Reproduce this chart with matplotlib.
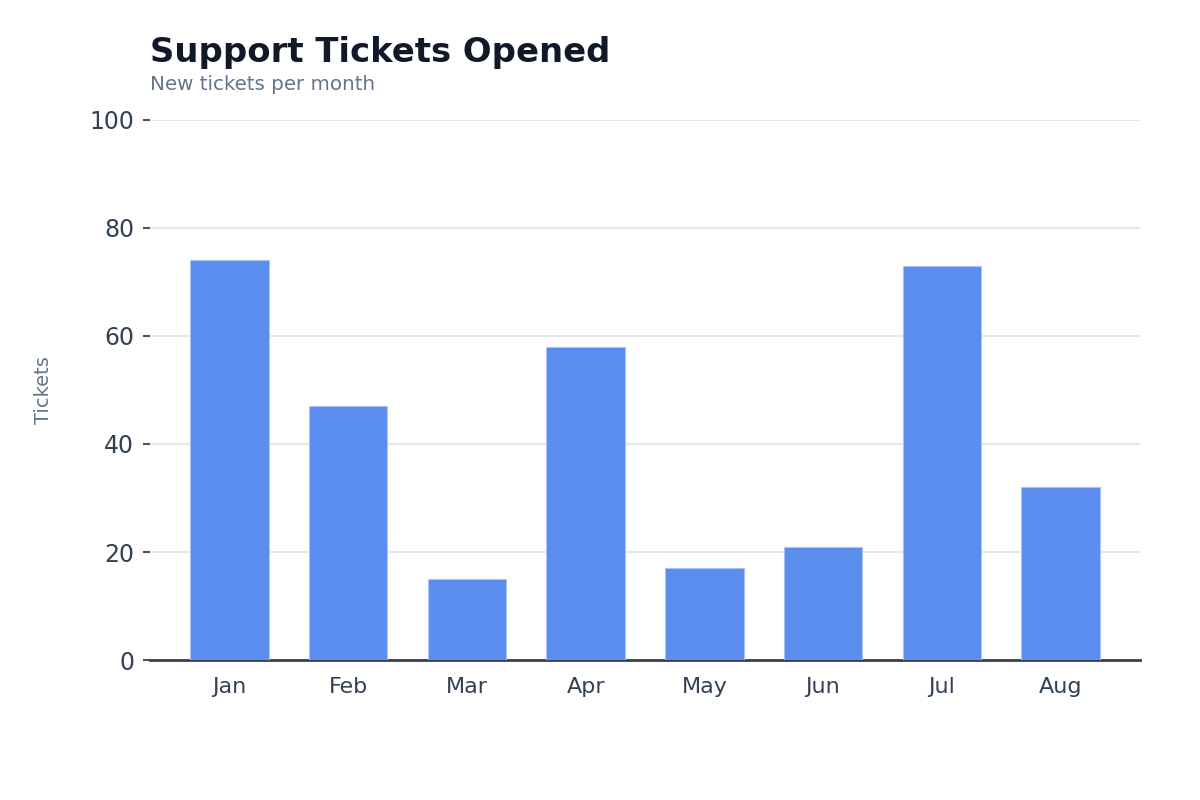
import numpy as np
import matplotlib.pyplot as plt

months = ['Jan', 'Feb', 'Mar', 'Apr', 'May', 'Jun', 'Jul', 'Aug']
tickets = [74, 47, 15, 58, 17, 21, 73, 32]
yticks = [0, 20, 40, 60, 80, 100]

fig = plt.figure(figsize=(12, 8), dpi=100)
ax = fig.add_axes([0.125, 0.175, 0.825, 0.675])

x = np.arange(len(months))
ax.bar(x, tickets, width=0.66, color='#5b8def', edgecolor='#a9c4f5',
       linewidth=0.8, zorder=3)

ax.set_xlim(-0.67, len(months) - 0.33)
ax.set_ylim(0, 100)
ax.set_yticks(yticks)
ax.set_xticks(x)
ax.set_xticklabels(months)

ax.grid(axis='y', color='#e5e7eb', linewidth=1.5, zorder=0)
for s in ['top', 'right', 'left']:
    ax.spines[s].set_visible(False)
ax.spines['bottom'].set_color('#374151')
ax.spines['bottom'].set_linewidth(2)
ax.spines['bottom'].set_zorder(2)

ax.tick_params(axis='y', length=5, width=1.5, color='#4b5563', pad=6.5,
               labelsize=17, labelcolor='#334155')
ax.tick_params(axis='x', length=0, pad=12.5, labelsize=16, labelcolor='#334155')

ax.set_ylabel('Tickets', fontsize=14, color='#64748b', va='center')
ax.yaxis.set_label_coords(-0.1076, 0.5)

fig.text(0.125, 0.922, 'Support Tickets Opened', fontsize=24.4, fontweight='bold',
         color='#111827', ha='left', va='baseline')
fig.text(0.125, 0.888, 'New tickets per month', fontsize=14.3, color='#64748b',
         ha='left', va='baseline')

fig.savefig('out.png', dpi=100)
